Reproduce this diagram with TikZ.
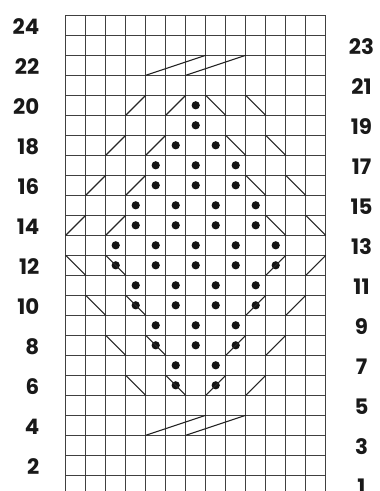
\documentclass[tikz,border=0pt]{standalone}
\usepackage{fontspec}
\setmainfont{Poppins}
\begin{document}
\begin{tikzpicture}[x=0.75pt,y=-0.75pt,
  gridline/.style={draw=black!75, line width=0.75pt},
  symline/.style={draw=black!85, line width=0.8pt},
  stdot/.style={circle, fill=black!92, inner sep=0pt, minimum size=6.2pt},
  rowlabel/.style={font=\bfseries\fontsize{16}{16}\selectfont, text=black!90, inner sep=0pt}]
\useasboundingbox (0,0) rectangle (379,491);
\fill[white] (0,0) rectangle (379,491);
% grid
\foreach \k in {0,...,23}
  \draw[gridline] (65.7,{15.3+20*\k}) -- (325.7,{15.3+20*\k});
\foreach \c in {0,...,13}
  \draw[gridline] ({65.7+20*\c},15.3) -- ({65.7+20*\c},491);
% row labels
\foreach \n in {24,22,...,2}
  \node[rowlabel, anchor=east] (L\n) at (39.5,{15.3+20*(24-\n)+11.5}) {\n};
\foreach \n in {23,21,...,1}
  \node[rowlabel] (R\n) at (361.5,{15.3+20*(24-\n)+11}) {\n};
% dots (column/row)
\foreach \c/\r [count=\i] in {7/20,7/19,6/18,8/18,5/17,7/17,9/17,5/16,7/16,9/16,
   4/15,6/15,8/15,10/15,4/14,6/14,8/14,10/14,
   3/13,5/13,7/13,9/13,11/13,3/12,5/12,7/12,9/12,11/12,
   4/11,6/11,8/11,10/11,4/10,6/10,8/10,10/10,
   5/9,7/9,9/9,5/8,7/8,9/8,6/7,8/7,6/6,8/6}
  \node[stdot] (d\i) at ({55.7+20*\c},{15.3+20*(24-\r)+10}) {};
% "/" diagonals (bottom-left to top-right)
\foreach \c/\r in {4/20,6/20,3/18,5/18,2/16,4/16,1/14,3/14,
   11/12,13/12,10/10,12/10,9/8,11/8,8/6,10/6}
  \draw[symline] ({45.7+20*\c},{15.3+20*(25-\r)}) -- ({65.7+20*\c},{15.3+20*(24-\r)});
% "\" diagonals (top-left to bottom-right)
\foreach \c/\r in {8/20,10/20,9/18,11/18,10/16,12/16,11/14,13/14,
   1/12,3/12,2/10,4/10,3/8,5/8,4/6,6/6}
  \draw[symline] ({45.7+20*\c},{15.3+20*(24-\r)}) -- ({65.7+20*\c},{15.3+20*(25-\r)});
% cable symbols in rows 22 and 4
\foreach \r in {22,4} {
  \draw[symline] (145.7,{15.3+20*(25-\r)}) -- (205.7,{15.3+20*(24-\r)});
  \draw[symline] (185.7,{15.3+20*(25-\r)}) -- (245.7,{15.3+20*(24-\r)});
}
\end{tikzpicture}
\end{document}
